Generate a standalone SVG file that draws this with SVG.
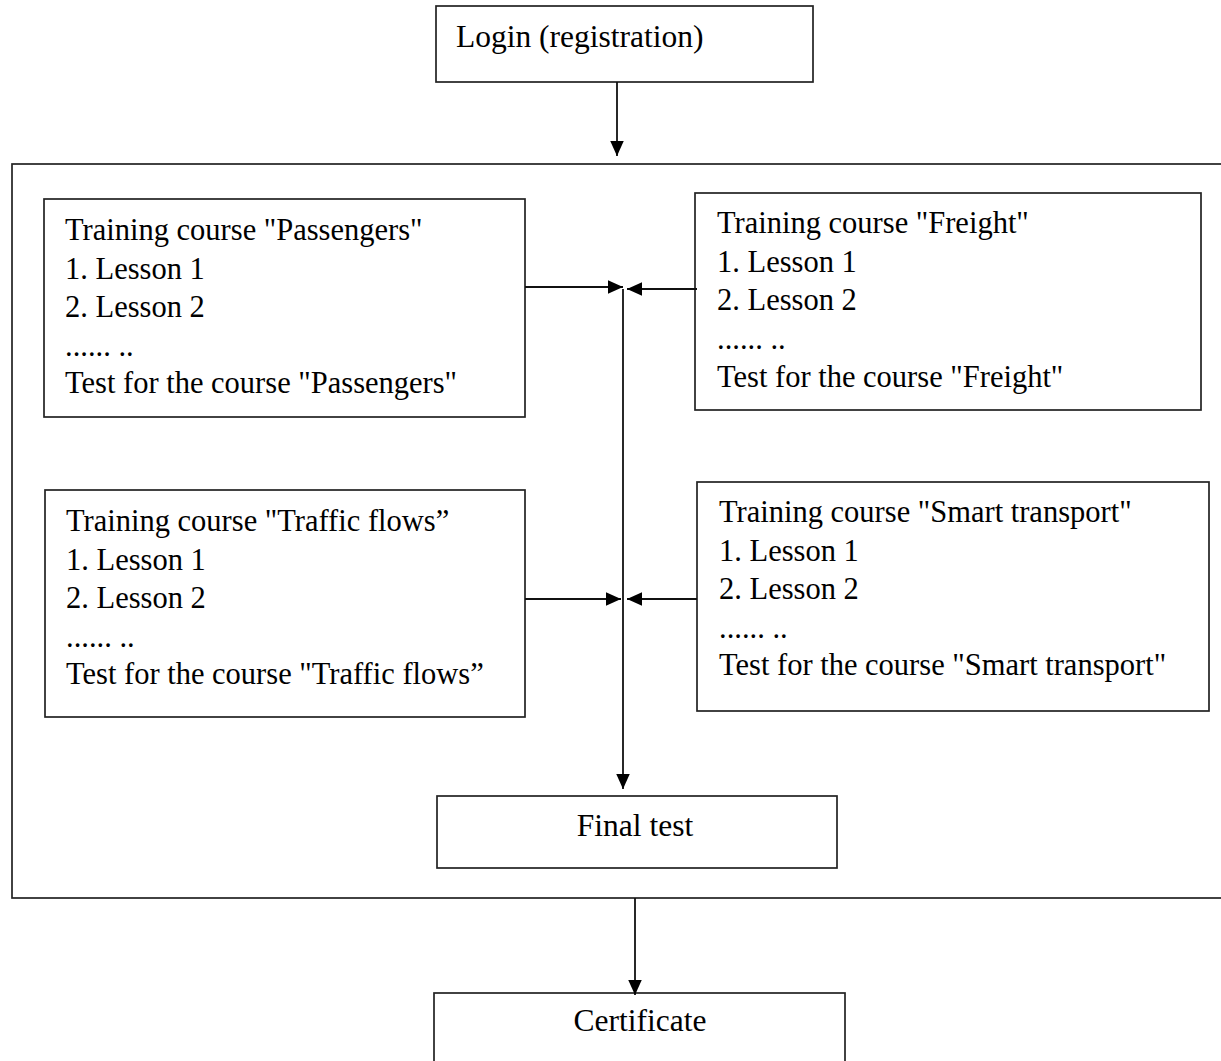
<svg xmlns="http://www.w3.org/2000/svg" width="1221" height="1061" viewBox="0 0 1221 1061">
<style>
  .box { fill: #fff; stroke: #222; stroke-width: 1.7; }
  .frame { fill: none; stroke: #222; stroke-width: 1.7; }
  .t { font-family: "Liberation Serif", "Times New Roman", serif; font-size: 30.5px; fill: #000; }
  .tc { font-family: "Liberation Serif", "Times New Roman", serif; font-size: 31.5px; fill: #000; text-anchor: middle; }
  .c { fill: none; stroke: #111; stroke-width: 1.8; }
</style>
<defs>
  <marker id="ah" viewBox="0 0 10 10" refX="10" refY="5" markerUnits="userSpaceOnUse" markerWidth="15" markerHeight="15" orient="auto">
    <path d="M0,0.5 L10,5 L0,9.5 Z" fill="#000"/>
  </marker>
</defs>
<rect id="frame" class="frame" x="12" y="164" width="1230" height="734"/>
<g id="login">
  <rect class="box" x="436" y="6" width="377" height="76"/>
  <text class="t" x="456" y="47" style="font-size:31.5px">Login (registration)</text>
</g>
<g id="passengers">
  <rect class="box" x="44" y="199" width="481" height="218"/>
  <text class="t" x="65" y="240">Training course "Passengers"</text>
  <text class="t" x="65" y="278.5">1. Lesson 1</text>
  <text class="t" x="65" y="317">2. Lesson 2</text>
  <text class="t" x="65" y="355.5">...... ..</text>
  <text class="t" x="65" y="393">Test for the course "Passengers"</text>
</g>
<g id="freight">
  <rect class="box" x="695" y="193" width="506" height="217"/>
  <text class="t" x="717" y="233">Training course "Freight"</text>
  <text class="t" x="717" y="271.5">1. Lesson 1</text>
  <text class="t" x="717" y="310">2. Lesson 2</text>
  <text class="t" x="717" y="348.5">...... ..</text>
  <text class="t" x="717" y="387">Test for the course "Freight"</text>
</g>
<g id="traffic">
  <rect class="box" x="45" y="490" width="480" height="227"/>
  <text class="t" x="66" y="531">Training course "Traffic flows”</text>
  <text class="t" x="66" y="569.5">1. Lesson 1</text>
  <text class="t" x="66" y="608">2. Lesson 2</text>
  <text class="t" x="66" y="646.5">...... ..</text>
  <text class="t" x="66" y="684">Test for the course "Traffic flows”</text>
</g>
<g id="smart">
  <rect class="box" x="697" y="482" width="512" height="229"/>
  <text class="t" x="719" y="522">Training course "Smart transport"</text>
  <text class="t" x="719" y="560.5">1. Lesson 1</text>
  <text class="t" x="719" y="599">2. Lesson 2</text>
  <text class="t" x="719" y="637.5">...... ..</text>
  <text class="t" x="719" y="675">Test for the course "Smart transport"</text>
</g>
<g id="final">
  <rect class="box" x="437" y="796" width="400" height="72"/>
  <text class="tc" x="635" y="836">Final test</text>
</g>
<g id="certificate">
  <rect class="box" x="434" y="993" width="411" height="80"/>
  <text class="tc" x="640" y="1031">Certificate</text>
</g>
<g id="connectors">
  <path class="c" d="M617,82 V156" marker-end="url(#ah)"/>
  <path class="c" d="M525,287 H623" marker-end="url(#ah)"/>
  <path class="c" d="M697,289 H627" marker-end="url(#ah)"/>
  <path class="c" d="M525,599 H621" marker-end="url(#ah)"/>
  <path class="c" d="M697,599 H627" marker-end="url(#ah)"/>
  <path class="c" d="M623,289 V789" marker-end="url(#ah)"/>
  <path class="c" d="M635,898 V995" marker-end="url(#ah)"/>
</g>
</svg>
